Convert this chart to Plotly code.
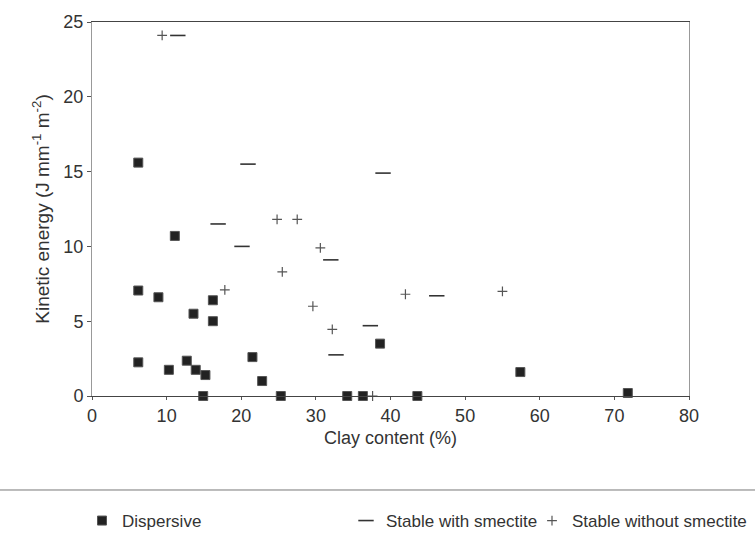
import plotly.graph_objects as go

# Dispersive soils
disp_x = [6.2, 6.2, 6.2, 8.9, 10.3, 11.1, 12.7, 13.6, 13.9, 15.2, 16.2, 16.2, 14.9,
          21.5, 22.8, 25.3, 34.2, 36.3, 38.6, 43.6, 57.4, 71.8]
disp_y = [15.6, 7.05, 2.25, 6.6, 1.75, 10.7, 2.36, 5.5, 1.75, 1.4, 6.4, 5.0, 0.0,
          2.6, 1.0, 0.0, 0.0, 0.0, 3.5, 0.0, 1.6, 0.2]

# Stable with smectite
with_x = [11.5, 20.9, 39.0, 16.9, 20.1, 32.0, 37.3, 32.7, 46.2]
with_y = [24.1, 15.5, 14.9, 11.5, 10.0, 9.1, 4.7, 2.75, 6.7]

# Stable without smectite
without_x = [9.4, 24.8, 27.5, 30.6, 25.5, 17.8, 29.6, 32.2, 42.0, 55.0, 37.6]
without_y = [24.1, 11.8, 11.8, 9.9, 8.3, 7.1, 6.0, 4.45, 6.8, 7.0, 0.0]

x_ticks = [0, 10, 20, 30, 40, 50, 60, 70, 80]
y_ticks = [0, 5, 10, 15, 20, 25]

FONT = "Liberation Sans, Arial, sans-serif"
TXT = "#333333"

fig = go.Figure()
fig.add_trace(go.Scatter(
    x=disp_x, y=disp_y, mode="markers", name="Dispersive", legend="legend",
    showlegend=True,
    marker=dict(symbol="square", size=9, color="#222222",
                line=dict(color="#555555", width=1)),
    cliponaxis=False))
fig.add_trace(go.Scatter(
    x=with_x, y=with_y, mode="markers", name="Stable with smectite", legend="legend2",
    showlegend=True,
    marker=dict(symbol="line-ew", size=11, color="#333333",
                line=dict(color="#333333", width=1.6)),
    cliponaxis=False))
fig.add_trace(go.Scatter(
    x=without_x, y=without_y, mode="markers", name="Stable without smectite", legend="legend3",
    showlegend=True,
    marker=dict(symbol="cross-thin", size=7, color="#555555",
                line=dict(color="#555555", width=1.2)),
    cliponaxis=False))

leg_common = dict(orientation="h", xref="container", yref="container",
                  yanchor="middle", xanchor="left", bgcolor="rgba(0,0,0,0)",
                  font=dict(family=FONT, size=17, color=TXT), visible=True)

fig.update_layout(
    width=755, height=543,
    margin=dict(l=92, r=66, t=14, b=147),
    paper_bgcolor="white", plot_bgcolor="white",
    showlegend=True,
    font=dict(family=FONT, size=17, color=TXT),
    legend=dict(x=82 / 755, y=1 - 521 / 543, **leg_common),
    legend2=dict(x=346 / 755, y=1 - 521 / 543, **leg_common),
    legend3=dict(x=532 / 755, y=1 - 521 / 543, **leg_common),
    xaxis=dict(range=[0, 80], tickvals=x_ticks, ticks="outside", ticklen=3,
               tickcolor="#555", showline=True, linecolor="#444", linewidth=1,
               mirror=True, showgrid=False, zeroline=False,
               title=dict(text="Clay content (%)", standoff=6,
                          font=dict(family=FONT, size=18, color=TXT)),
               tickfont=dict(family=FONT, size=18, color=TXT)),
    yaxis=dict(range=[0, 25], tickvals=y_ticks, ticks="outside", ticklen=4,
               tickcolor="#555", showline=True, linecolor="#999", linewidth=1,
               mirror=True, showgrid=False, zeroline=False,
               title=dict(text="Kinetic energy (J mm<sup>-1</sup> m<sup>-2</sup>)", standoff=8,
                          font=dict(family=FONT, size=19, color=TXT)),
               tickfont=dict(family=FONT, size=18, color=TXT)),
    shapes=[dict(type="line", xref="paper", yref="paper",
                 x0=-92 / 597, x1=(755 - 92) / 597,
                 y0=(396 - 492) / 382, y1=(396 - 492) / 382,
                 line=dict(color="#777777", width=1))],
)

fig.write_html("out.html")
